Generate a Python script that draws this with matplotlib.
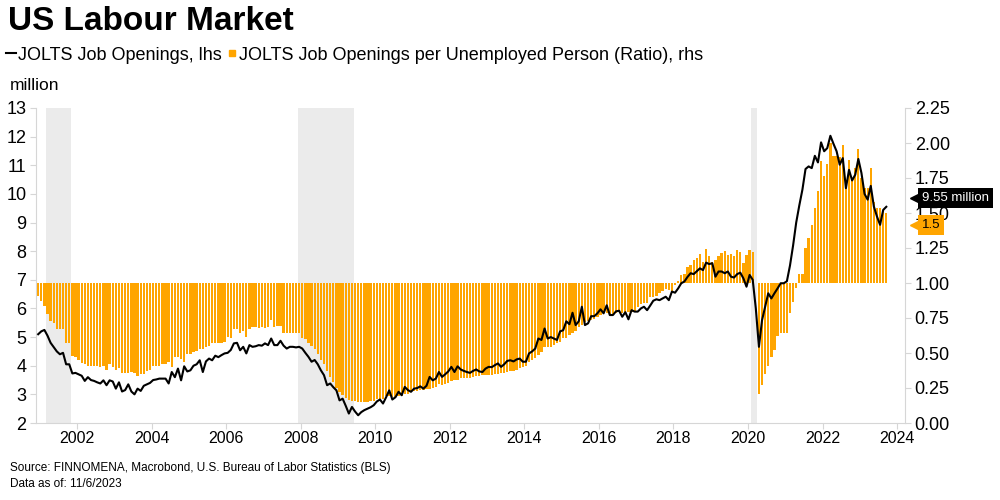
import matplotlib
matplotlib.use("Agg")
import numpy as np
import pandas as pd
import matplotlib.pyplot as plt
import matplotlib.transforms as mtransforms
from matplotlib import font_manager
from matplotlib.lines import Line2D
from matplotlib.ticker import MultipleLocator, FormatStrFormatter

plt.rcParams['font.family'] = ['Liberation Sans', 'DejaVu Sans']
installed = {f.name for f in font_manager.fontManager.ttflist}
narrow = 'Liberation Sans Narrow' if 'Liberation Sans Narrow' in installed else 'Liberation Sans'

# monthly series, Dec 2000 .. Sep 2023
start_month = "2000-12"

# JOLTS job openings, million (lhs)
openings = [
    5.10,                                                                          # 2000
    5.20, 5.25, 5.05, 4.80, 4.65, 4.50, 4.40, 4.45, 4.05, 4.05, 3.73, 3.75,        # 2001
    3.70, 3.65, 3.47, 3.60, 3.50, 3.47, 3.42, 3.38, 3.49, 3.32, 3.49, 3.45,        # 2002
    3.20, 3.42, 3.10, 3.15, 3.35, 3.10, 3.00, 3.20, 3.12, 3.30, 3.35, 3.40,        # 2003
    3.50, 3.52, 3.55, 3.55, 3.55, 3.38, 3.78, 3.60, 3.90, 3.49, 3.98, 3.80,        # 2004
    3.84, 4.00, 4.05, 4.19, 3.78, 4.15, 4.25, 4.19, 4.35, 4.30, 4.37, 4.43,        # 2005
    4.45, 4.55, 4.78, 4.80, 4.54, 4.66, 4.43, 4.72, 4.66, 4.68, 4.72, 4.70,        # 2006
    4.78, 4.72, 4.95, 4.72, 4.72, 4.87, 4.70, 4.60, 4.66, 4.66, 4.64, 4.66,        # 2007
    4.60, 4.45, 4.31, 4.14, 4.20, 4.05, 3.84, 3.67, 3.32, 3.38, 3.25, 3.14,        # 2008
    2.79, 2.85, 2.60, 2.33, 2.56, 2.40, 2.27, 2.38, 2.45, 2.50, 2.55, 2.62,        # 2009
    2.75, 2.82, 2.68, 2.90, 3.14, 2.82, 2.90, 3.09, 2.97, 3.26, 3.15, 3.09,        # 2010
    3.20, 3.22, 3.28, 3.20, 3.30, 3.61, 3.49, 3.55, 3.78, 3.61, 3.70, 3.80,        # 2011
    3.96, 3.78, 3.98, 3.87, 3.82, 3.78, 3.75, 3.82, 3.87, 3.80, 3.78, 3.90,        # 2012
    3.96, 3.95, 4.02, 4.08, 3.96, 4.05, 4.17, 4.19, 4.15, 4.22, 4.25, 4.14,        # 2013
    4.14, 4.43, 4.50, 4.60, 4.95, 4.90, 5.30, 4.95, 5.00, 4.95, 4.90, 5.20,        # 2014
    5.24, 5.55, 5.45, 5.85, 5.42, 5.55, 6.06, 5.42, 5.48, 5.73, 5.73, 5.83,        # 2015
    5.97, 5.83, 6.11, 5.77, 5.77, 5.90, 5.92, 5.71, 5.87, 5.62, 5.94, 5.89,        # 2016
    5.89, 6.00, 6.06, 5.94, 6.10, 6.27, 6.32, 6.29, 6.35, 6.41, 6.29, 6.59,        # 2017
    6.55, 6.70, 6.88, 6.94, 7.10, 7.23, 7.20, 7.30, 7.40, 7.34, 7.60, 7.55,        # 2018
    7.58, 7.11, 7.29, 7.29, 7.23, 7.29, 7.11, 7.08, 7.20, 7.25, 7.05, 6.76,        # 2019
    7.17, 7.00, 6.00, 4.66, 5.59, 6.06, 6.53, 6.35, 6.53, 6.70, 6.88, 6.88,        # 2020
    6.95, 7.50, 8.20, 9.00, 9.60, 10.15, 10.87, 10.96, 10.90, 11.33, 11.10, 11.80, # 2021
    11.49, 11.60, 12.03, 11.75, 11.49, 11.02, 11.25, 10.20, 10.84, 10.47, 10.67, 11.22,  # 2022
    10.73, 10.00, 9.80, 10.28, 9.56, 9.21, 8.92, 9.44, 9.55,                       # 2023
]

# job openings per unemployed person (rhs)
ratio = [
    0.905,                                                                                  # 2000
    0.870, 0.835, 0.780, 0.730, 0.716, 0.675, 0.675, 0.675, 0.573, 0.573, 0.477, 0.473,     # 2001
    0.449, 0.430, 0.420, 0.405, 0.410, 0.405, 0.405, 0.400, 0.405, 0.382, 0.425, 0.400,     # 2002
    0.377, 0.390, 0.358, 0.360, 0.355, 0.365, 0.360, 0.334, 0.352, 0.353, 0.370, 0.382,     # 2003
    0.405, 0.408, 0.410, 0.420, 0.420, 0.437, 0.400, 0.470, 0.473, 0.460, 0.437, 0.496,     # 2004
    0.490, 0.505, 0.515, 0.532, 0.532, 0.544, 0.550, 0.568, 0.570, 0.573, 0.573, 0.580,     # 2005
    0.616, 0.605, 0.668, 0.668, 0.640, 0.659, 0.616, 0.668, 0.683, 0.683, 0.680, 0.683,     # 2006
    0.680, 0.683, 0.735, 0.683, 0.690, 0.690, 0.644, 0.644, 0.644, 0.644, 0.640, 0.640,     # 2007
    0.604, 0.600, 0.568, 0.550, 0.532, 0.496, 0.449, 0.420, 0.370, 0.330, 0.290, 0.250,     # 2008
    0.220, 0.200, 0.180, 0.167, 0.158, 0.155, 0.150, 0.150, 0.150, 0.152, 0.158, 0.160,     # 2009
    0.174, 0.172, 0.175, 0.190, 0.190, 0.185, 0.188, 0.190, 0.195, 0.205, 0.210, 0.222,     # 2010
    0.228, 0.232, 0.234, 0.239, 0.240, 0.246, 0.250, 0.260, 0.277, 0.275, 0.280, 0.285,     # 2011
    0.300, 0.305, 0.310, 0.318, 0.325, 0.325, 0.325, 0.330, 0.334, 0.338, 0.341, 0.341,     # 2012
    0.341, 0.345, 0.353, 0.353, 0.355, 0.358, 0.365, 0.368, 0.372, 0.380, 0.390, 0.400,     # 2013
    0.410, 0.437, 0.450, 0.465, 0.484, 0.510, 0.544, 0.540, 0.544, 0.560, 0.570, 0.580,     # 2014
    0.604, 0.610, 0.630, 0.640, 0.660, 0.687, 0.700, 0.723, 0.730, 0.735, 0.745, 0.760,     # 2015
    0.770, 0.788, 0.785, 0.778, 0.780, 0.788, 0.790, 0.788, 0.790, 0.795, 0.790, 0.800,     # 2016
    0.830, 0.850, 0.855, 0.860, 0.900, 0.900, 0.910, 0.926, 0.940, 0.955, 0.950, 0.938,     # 2017
    0.986, 1.017, 1.057, 1.064, 1.117, 1.129, 1.165, 1.177, 1.210, 1.153, 1.240, 1.190,     # 2018
    1.153, 1.165, 1.190, 1.217, 1.230, 1.200, 1.210, 1.190, 1.236, 1.225, 1.140, 1.200,     # 2019
    1.236, 1.224, 1.000, 0.205, 0.270, 0.353, 0.405, 0.473, 0.520, 0.620, 0.640, 0.640,     # 2020
    0.644, 0.788, 0.866, 0.962, 1.064, 1.064, 1.248, 1.320, 1.415, 1.535, 1.654, 1.869,     # 2021
    1.761, 1.852, 2.000, 1.905, 1.909, 1.900, 1.988, 1.678, 1.880, 1.750, 1.820, 1.957,     # 2022
    1.750, 1.680, 1.680, 1.820, 1.580, 1.535, 1.535, 1.520, 1.500,                          # 2023
]

# NBER recessions (start month, end month)
recessions = [("2001-03", "2001-11"), ("2007-12", "2009-06"), ("2020-02", "2020-04")]

ORANGE = '#FFA500'
SHADE = '#EBEBEB'
SPINE = '#D6D6D6'


def dec_year(p):
    return p.year + (p.month - 1) / 12


months = pd.period_range(start_month, periods=len(openings), freq='M')
x = np.array([dec_year(p) + 0.5 / 12 for p in months])
openings = np.array(openings)
ratio = np.array(ratio)

fig = plt.figure(figsize=(10, 5), dpi=100)
ax = fig.add_axes([0.036, 0.154, 0.869, 0.630])
ax2 = ax.twinx()
ax.set_zorder(ax2.get_zorder() + 1)
ax.patch.set_visible(False)

for s, e in recessions:
    ax2.axvspan(dec_year(pd.Period(s, 'M')), dec_year(pd.Period(e, 'M')), color=SHADE, lw=0, zorder=0)

ax2.bar(x, ratio - 1, bottom=1, width=0.062, color=ORANGE, lw=0, zorder=1)
ax.plot(x, openings, color='black', lw=1.5, zorder=3)

ax.set_xlim(2000.9, 2024.21)
ax.set_ylim(2, 13)
ax2.set_ylim(0, 2.25)
ax.set_xticks(range(2002, 2025, 2))
ax.yaxis.set_major_locator(MultipleLocator(1))
ax2.yaxis.set_major_locator(MultipleLocator(0.25))
ax2.yaxis.set_major_formatter(FormatStrFormatter('%.2f'))

for a in (ax, ax2):
    for side in ('top', 'left', 'right', 'bottom'):
        a.spines[side].set_color(SPINE)
ax.spines['top'].set_visible(False)
ax.spines['right'].set_visible(False)
ax2.spines['top'].set_visible(False)
ax2.spines['left'].set_visible(False)
ax2.spines['bottom'].set_visible(False)

ax.tick_params(axis='x', length=4, color=SPINE, labelsize=11.5, pad=2)
ax.tick_params(axis='y', length=4, color=SPINE, labelsize=13, pad=3)
ax2.tick_params(axis='y', length=4, color=SPINE, labelsize=13, pad=3)

# end-of-series labels on the right (they sit over the 1.50 tick, as in the source chart)
for val, txt, fc, tc, dy, a_src in [
    (openings[-1], f"{openings[-1]:.2f} million", 'black', 'white', 9, ax),
    (ratio[-1], f"{ratio[-1]:.1f}", ORANGE, 'black', -12, ax2),
]:
    tr = mtransforms.blended_transform_factory(a_src.transAxes, a_src.transData)
    ax.annotate(txt, xy=(1, val), xycoords=tr, xytext=(17 * 72 / fig.dpi, dy * 72 / fig.dpi),
                textcoords='offset points', ha='left', va='center', fontsize=9.5,
                color=tc, annotation_clip=False, zorder=10,
                bbox=dict(boxstyle='square,pad=0.3', fc=fc, ec='none'))
    off = mtransforms.ScaledTranslation(9 / fig.dpi, dy / fig.dpi, fig.dpi_scale_trans)
    ax.plot([1], [val], marker='<', markersize=6, color=fc, transform=tr + off,
            clip_on=False, zorder=10)

# title, legend, unit, footer
fig.text(0.008, 1 - 21 / 500, "US Labour Market", fontsize=24, fontweight='bold', va='center')
handles = [Line2D([], [], color='black', lw=1.5),
           Line2D([], [], color=ORANGE, marker='s', markersize=5, linestyle='None')]
labels = ["JOLTS Job Openings, lhs",
          "JOLTS Job Openings per Unemployed Person (Ratio), rhs"]
fig.legend(handles, labels, loc='center left', bbox_to_anchor=(0.006, 1 - 55 / 500), ncol=2,
           frameon=False, fontsize=13, handlelength=0.55, handletextpad=0.1,
           columnspacing=0.3, borderpad=0, borderaxespad=0)
fig.text(0.010, 1 - 86 / 500, "million", fontsize=12.5, va='center')
fig.text(0.010, 1 - 468 / 500, "Source: FINNOMENA, Macrobond, U.S. Bureau of Labor Statistics (BLS)",
         fontsize=8.5, va='center', family=narrow)
fig.text(0.010, 1 - 484 / 500, "Data as of: 11/6/2023", fontsize=8.5, va='center', family=narrow)

fig.savefig('out.png', dpi=100)
